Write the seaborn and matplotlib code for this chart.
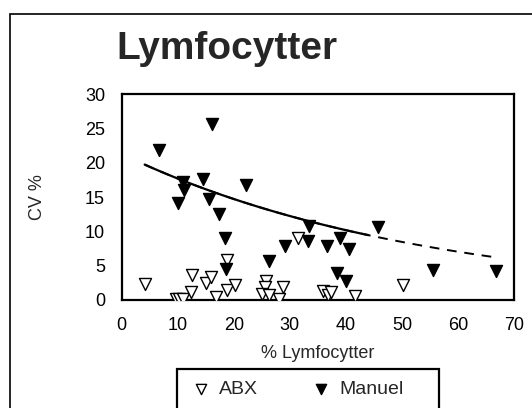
import numpy as np
import pandas as pd
import seaborn as sns
import matplotlib
matplotlib.use("Agg")
import matplotlib.pyplot as plt
from matplotlib.patches import Rectangle
from matplotlib.ticker import MultipleLocator

# ---- data ----
abx_x = [4.2, 9.7, 10.3, 11.0, 12.6, 12.4, 15.0, 16.0, 16.8, 18.7, 18.8, 20.2,
         25.7, 25.6, 25.1, 26.3, 28.1, 28.8, 31.5, 36.0, 36.8, 37.3, 41.6, 50.2]
abx_y = [2.4, 0.2, 0.1, 0.2, 3.6, 1.2, 2.5, 3.3, 0.4, 5.8, 1.45, 2.2,
         2.7, 1.9, 0.9, 0.7, 0.15, 1.9, 9.0, 1.3, 0.8, 1.1, 0.6, 2.2]

man_x = [6.7, 16.2, 10.9, 11.1, 14.5, 22.1, 10.1, 15.6, 17.4, 18.4, 18.6,
         26.2, 29.2, 33.4, 33.3, 36.7, 38.9, 40.6, 38.4, 40.0, 45.8, 55.6, 66.8]
man_y = [21.9, 25.6, 17.2, 16.0, 17.6, 16.7, 14.2, 14.7, 12.5, 9.0, 4.5,
         5.7, 7.9, 10.8, 8.6, 7.9, 9.1, 7.5, 4.0, 2.7, 10.6, 4.4, 4.3]

# exponential trend line (y = c * exp(b * x))
trend_c = 21.3
trend_b = -0.01844
trend_x_start = 4.1
trend_x_end_solid = 44.0
trend_x_end_dashed = 66.9

series_names = ["ABX", "Manuel"]
title_text = "Lymfocytter"
x_label = "% Lymfocytter"
y_label = "CV %"

df = pd.DataFrame({
    "x": abx_x + man_x,
    "y": abx_y + man_y,
    "serie": [series_names[0]] * len(abx_x) + [series_names[1]] * len(man_x),
})

sns.set_theme(style="white")
plt.rcParams["font.family"] = ["Liberation Sans", "DejaVu Sans"]

W, H = 532, 408
fig = plt.figure(figsize=(W / 100, H / 100), dpi=100)
ax = fig.add_axes([121.7 / W, 1 - 300 / H, (514 - 121.7) / W, (300 - 94.3) / H])

def trend(x0, x1):
    tx = np.linspace(x0, x1, 120)
    return pd.DataFrame({"x": tx, "y": trend_c * np.exp(trend_b * tx)})

sns.lineplot(data=trend(trend_x_start, trend_x_end_solid), x="x", y="y", ax=ax,
             color="black", lw=1.6, legend=False, zorder=2)
sns.lineplot(data=trend(trend_x_start, trend_x_end_dashed), x="x", y="y", ax=ax,
             color="black", lw=1.4, linestyle=(0, (5, 4)), legend=False, zorder=2)

sns.scatterplot(data=df[df.serie == "ABX"], x="x", y="y", ax=ax, marker="v",
                s=75, facecolor="white", edgecolor="black", linewidth=1.0,
                zorder=3, label="ABX")
sns.scatterplot(data=df[df.serie == "Manuel"], x="x", y="y", ax=ax, marker="v",
                s=75, color="black", edgecolor="black", linewidth=1.0,
                zorder=3, label="Manuel")

ax.set_xlim(0, 70)
ax.set_ylim(0, 30)
ax.xaxis.set_major_locator(MultipleLocator(10))
ax.xaxis.set_minor_locator(MultipleLocator(5))
ax.yaxis.set_major_locator(MultipleLocator(5))
ax.yaxis.set_minor_locator(MultipleLocator(2.5))
ax.tick_params(which="both", direction="inout", width=1.2,
               color="#888888", labelsize=13, labelcolor="black")
ax.tick_params(axis="x", which="both", length=6, pad=9)
ax.tick_params(axis="y", which="both", length=12, pad=6)
for s in ax.spines.values():
    s.set_color("black")
    s.set_linewidth(1.6)

ax.set_xlabel(x_label, fontsize=13, labelpad=8)
ax.set_ylabel(y_label, fontsize=13, labelpad=28)

fig.text(227 / W, 1 - 49 / H, title_text, fontsize=28, fontweight="bold",
         ha="center", va="center")

# outer chart border
fig.patches.append(Rectangle((9.5 / W, -0.1), 2, 1.1 - 14 / H,
                             transform=fig.transFigure, fill=False,
                             edgecolor="black", lw=1.2))
# legend box
fig.patches.append(Rectangle((177 / W, -0.1), (439 - 177) / W, 1.1 - 369 / H,
                             transform=fig.transFigure, fill=False,
                             edgecolor="black", lw=1.6))
if ax.legend_:
    ax.legend_.remove()
handles, labels = ax.get_legend_handles_labels()
fig.legend(handles, labels, loc="center left", bbox_to_anchor=(191 / W, 1 - 389 / H),
           ncol=2, frameon=False, fontsize=14, handletextpad=0.45,
           columnspacing=2.75, handlelength=1.0, markerscale=0.85,
           borderaxespad=0, borderpad=0)

fig.savefig("out.png", dpi=100)
